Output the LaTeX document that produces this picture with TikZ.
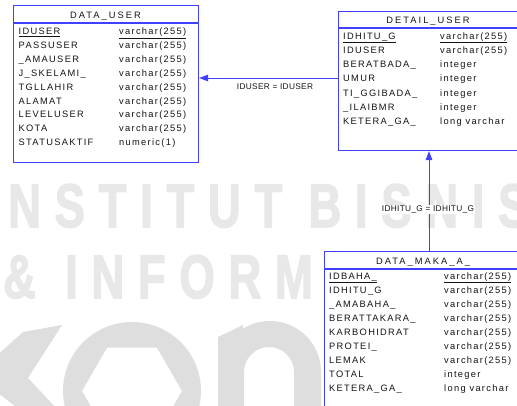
\documentclass[tikz,border=0pt]{standalone}
\usepackage{fontspec}
\setmainfont{Liberation Sans}
\newfontfamily\erfont{Liberation Sans}[LetterSpace=14]
\newfontfamily\ttlfont{Liberation Sans}[LetterSpace=22]
\newfontfamily\relfont{Liberation Sans}[LetterSpace=4]
\newfontfamily\wmfont{Liberation Sans Bold}[LetterSpace=30,FakeBold=2.5]
\usetikzlibrary{arrows.meta}
\definecolor{erblue}{RGB}{64,64,255}
\definecolor{wmtext}{RGB}{232,232,232}
\definecolor{wmlogo}{RGB}{222,222,222}
\begin{document}
\begin{tikzpicture}[x=1pt,y=-1pt,
  tbl/.style={draw=erblue,line width=1.1pt,fill=white,rectangle,inner sep=0pt,anchor=north west},
  sepline/.style={draw=erblue,line width=1.1pt},
  cell/.style={anchor=base west,inner sep=0pt,text=black!92,font=\erfont\fontsize{9.3}{10}\selectfont},
  ttl/.style={anchor=base,inner sep=0pt,text=black!92,font=\ttlfont\fontsize{9.3}{10}\selectfont},
  rel/.style={draw=erblue,line width=1pt,-{Triangle[length=9pt,width=6.5pt]}},
  rellab/.style={anchor=base,inner sep=1pt,fill=white,text=black!92,font=\relfont\fontsize{8.3}{10}\selectfont},
  wm/.style={anchor=base west,inner sep=0pt,xscale=0.74,text=wmtext,font=\wmfont\fontsize{61.5}{70}\selectfont}]
\useasboundingbox (0,0) rectangle (517,405);
\clip (0,0) rectangle (517,405);
% watermark
\node[wm] (w1) at (8,227) {NSTITUT BISNIS};
\node[wm] (w2) at (3,298) {\&};
\node[wm] (w3) at (65,298) {INFORM};
\fill[wmlogo] (23,332) -- (62,325) -- (28,378) -- (58,410) -- (20,410) -- (-25,375) -- cycle;
\fill[wmlogo,even odd rule] (132,391) circle (69)
  (182,391) -- (157,347.7) -- (107,347.7) -- (82,391) -- (107,434.3) -- (157,434.3) -- cycle;
\fill[wmlogo,even odd rule] (219,372) arc[start angle=180,end angle=360,radius=51] -- (321,410) -- (219,410) -- cycle
  (244,372) arc[start angle=180,end angle=360,radius=25] -- (294,410) -- (244,410) -- cycle;
\fill[wmlogo] (218,337) -- (243,325) -- (243,410) -- (218,410) -- cycle;
% tables
\node[tbl,minimum width=185pt,minimum height=157pt] (du) at (13,5) {};
\node[tbl,minimum width=181pt,minimum height=139pt] (dtl) at (338,11) {};
\node[tbl,minimum width=198pt,minimum height=170pt] (mk) at (324,251) {};
\coordinate (y1) at (0,23);
\coordinate (y2) at (0,28);
\coordinate (y3) at (0,269);
\draw[sepline] (du.west |- y1) -- (du.east |- y1);
\draw[sepline] (dtl.west |- y2) -- (dtl.east |- y2);
\draw[sepline] (mk.west |- y3) -- (mk.east |- y3);
% DATA_USER
\node[ttl] (dut) at (105.5,18.3) {DATA\_USER};
\node[cell] (du-n1) at (18.5,34.5) {\underline{IDUSER}};
\node[cell] (du-t1) at (119,34.5) {\underline{varchar(255)}};
\foreach \nm/\ty [count=\i from 2] in {PASSUSER/varchar(255),\_AMAUSER/varchar(255),J\_SKELAMI\_/varchar(255),TGLLAHIR/varchar(255),ALAMAT/varchar(255),LEVELUSER/varchar(255),KOTA/varchar(255),STATUSAKTIF/numeric(1)}{
  \node[cell] (du-n\i) at (18.5,{34.5+13.9*(\i-1)}) {\nm};
  \node[cell] (du-t\i) at (119,{34.5+13.9*(\i-1)}) {\ty};
}
% DETAIL_USER
\node[ttl] (dtlt) at (428,23.3) {DETAIL\_USER};
\node[cell] (dtl-n1) at (343,39.3) {\underline{IDHITU\_G}};
\node[cell] (dtl-t1) at (440,39.3) {\underline{varchar(255)}};
\foreach \nm/\ty [count=\i from 2] in {IDUSER/varchar(255),BERATBADA\_/integer,UMUR/integer,TI\_GGIBADA\_/integer,\_ILAIBMR/integer,KETERA\_GA\_/long varchar}{
  \node[cell] (dtl-n\i) at (343,{39.3+14.2*(\i-1)}) {\nm};
  \node[cell] (dtl-t\i) at (440,{39.3+14.2*(\i-1)}) {\ty};
}
% DATA_MAKA_A_
\node[ttl] (mkt) at (423,264) {DATA\_MAKA\_A\_};
\node[cell] (mk-n1) at (329,279) {\underline{IDBAHA\_}};
\node[cell] (mk-t1) at (444,279) {\underline{varchar(255)}};
\foreach \nm/\ty [count=\i from 2] in {IDHITU\_G/varchar(255),\_AMABAHA\_/varchar(255),BERATTAKARA\_/varchar(255),KARBOHIDRAT/varchar(255),PROTEI\_/varchar(255),LEMAK/varchar(255),TOTAL/integer,KETERA\_GA\_/long varchar}{
  \node[cell] (mk-n\i) at (329,{279+14*(\i-1)}) {\nm};
  \node[cell] (mk-t\i) at (444,{279+14*(\i-1)}) {\ty};
}
% relations
\coordinate (hy) at (0,78);
\coordinate (vx) at (429,0);
\draw[rel] (dtl.west |- hy) -- (du.east |- hy);
\node[rellab] (l1) at (275,89.3) {IDUSER = IDUSER};
\draw[rel] (mk.north -| vx) -- (dtl.south -| vx);
\node[rellab] (l2) at (428,211.5) {IDHITU\_G = IDHITU\_G};
\end{tikzpicture}
\end{document}
